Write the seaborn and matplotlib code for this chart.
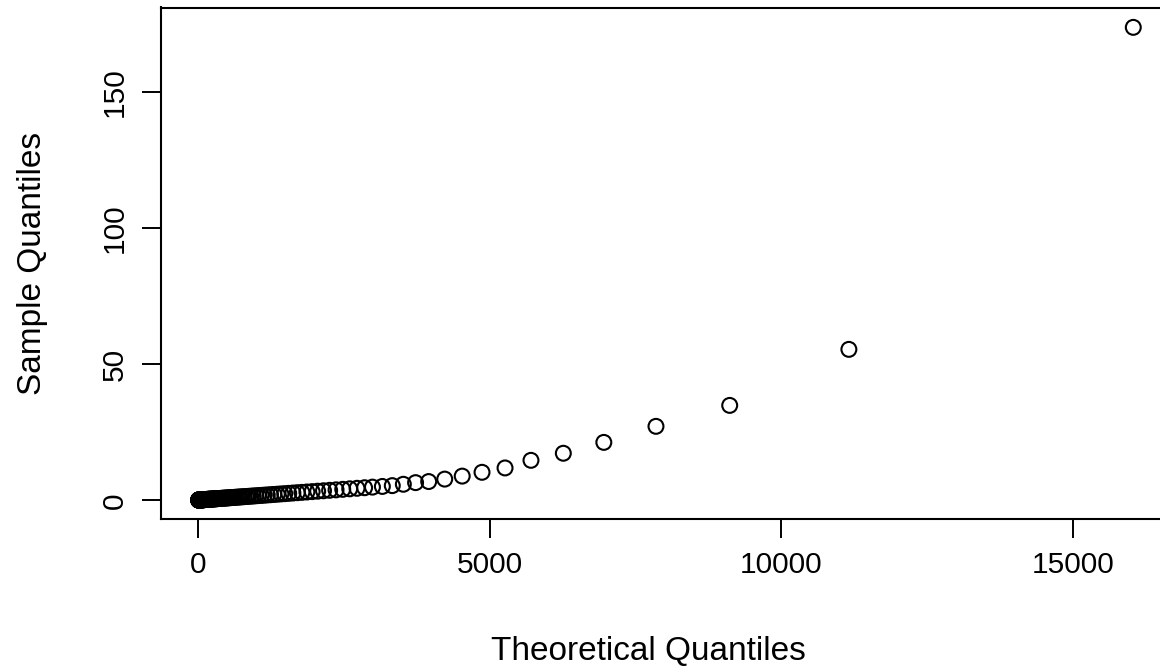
import numpy as np
import pandas as pd
import matplotlib
matplotlib.use("Agg")
import matplotlib.pyplot as plt
import seaborn as sns

# Theoretical quantiles (x) and sample quantiles (y)
theoretical = [
    16040, 11160, 9115, 7850, 6955, 6260, 5705, 5260, 4865, 4525, 4225, 3950,
    3725, 3515, 3325, 3155,
    2985, 2850, 2720, 2595, 2475, 2360, 2250, 2145, 2045, 1950, 1860, 1775,
    1695, 1620, 1548, 1480, 1415, 1352, 1292, 1235, 1180, 1128, 1078, 1030,
    984, 940, 898, 858, 820, 783, 748, 714, 682, 651, 621, 593, 566, 540,
    515, 491, 468, 446, 425, 405, 386, 368, 350, 333, 317, 302, 287, 273,
    260, 247, 235, 223, 212, 201, 191, 181, 172, 163, 155, 147, 139, 132,
    125, 118, 112, 106, 100, 95, 90, 85, 80, 75, 71, 67, 63, 59, 55, 52,
    49, 46, 43, 40, 37, 34, 32, 30, 28, 26, 24, 22, 20, 18, 16, 15, 14,
    13, 12, 11, 10, 9, 8, 7, 6, 5, 4, 3, 2, 1,
]
sample = [
    173.9, 55.5, 34.9, 27.2, 21.3, 17.3, 14.7, 11.9, 10.3, 8.9, 7.8, 6.9,
    6.5, 5.9, 5.4, 5.1,
    4.85, 4.63, 4.42, 4.23, 4.04, 3.85, 3.68, 3.51, 3.35, 3.20, 3.06, 2.92,
    2.80, 2.68, 2.56, 2.45, 2.35, 2.25, 2.15, 2.06, 1.98, 1.89, 1.81, 1.74,
    1.66, 1.59, 1.53, 1.46, 1.40, 1.34, 1.29, 1.24, 1.18, 1.14, 1.09, 1.04,
    1.00, 0.96, 0.92, 0.88, 0.84, 0.81, 0.78, 0.74, 0.71, 0.69, 0.66, 0.63,
    0.60, 0.58, 0.56, 0.53, 0.51, 0.49, 0.47, 0.45, 0.44, 0.42, 0.40, 0.39,
    0.37, 0.36, 0.35, 0.33, 0.32, 0.31, 0.30, 0.29, 0.28, 0.27, 0.26, 0.25,
    0.24, 0.24, 0.23, 0.22, 0.21, 0.21, 0.20, 0.19, 0.19, 0.18, 0.18, 0.17,
    0.17, 0.16, 0.16, 0.15, 0.15, 0.15, 0.14, 0.14, 0.14, 0.13, 0.13, 0.13,
    0.13, 0.12, 0.12, 0.12, 0.12, 0.12, 0.12, 0.11, 0.11, 0.11, 0.11, 0.11,
    0.11, 0.10, 0.10, 0.10,
]
x_ticks = [0, 5000, 10000, 15000]
y_ticks = [0, 50, 100, 150]
x_label = "Theoretical Quantiles"
y_label = "Sample Quantiles"

sns.set_style("white")
plt.rcParams["font.family"] = ["Liberation Sans", "DejaVu Sans"]

W, H = 1160, 670
fig = plt.figure(figsize=(W / 100, H / 100), dpi=100)
left_px, right_px, top_px, bottom_px = 160.5, 1170.7, 7.5, 518.7
ax = fig.add_axes([left_px / W, 1 - bottom_px / H,
                   (right_px - left_px) / W, (bottom_px - top_px) / H])

df = pd.DataFrame({"x": theoretical, "y": sample})
sns.scatterplot(data=df, x="x", y="y", ax=ax, marker="o", s=115,
                facecolor="none", edgecolor="black", linewidth=1.5,
                legend=False)

ax.set_xlim(-652, 16682)
ax.set_ylim(-6.76, 181.2)
ax.set_xticks(x_ticks)
ax.set_xticklabels([str(v) for v in x_ticks])
ax.set_yticks(y_ticks)
ax.set_yticklabels([str(v) for v in y_ticks], rotation=90, va="center")

for sp in ax.spines.values():
    sp.set_visible(True)
    sp.set_color("black")
    sp.set_linewidth(1.5)

ax.tick_params(axis="both", which="major", direction="out", length=14,
               width=1.4, color="black", labelsize=21.5, labelcolor="black",
               bottom=True, left=True, top=False, right=False)
ax.tick_params(axis="x", pad=9)
ax.tick_params(axis="y", pad=9)
ax.grid(False)

ax.set_xlabel(x_label, fontsize=24, color="black")
ax.set_ylabel(y_label, fontsize=24, color="black")
ax.xaxis.set_label_coords((648 - left_px) / (right_px - left_px),
                          -(652 - bottom_px) / (bottom_px - top_px))
ax.yaxis.set_label_coords(-(left_px - 32) / (right_px - left_px),
                          0.5)
ax.xaxis.label.set_va("center")
ax.yaxis.label.set_va("center")

fig.savefig("out.png", dpi=100)
